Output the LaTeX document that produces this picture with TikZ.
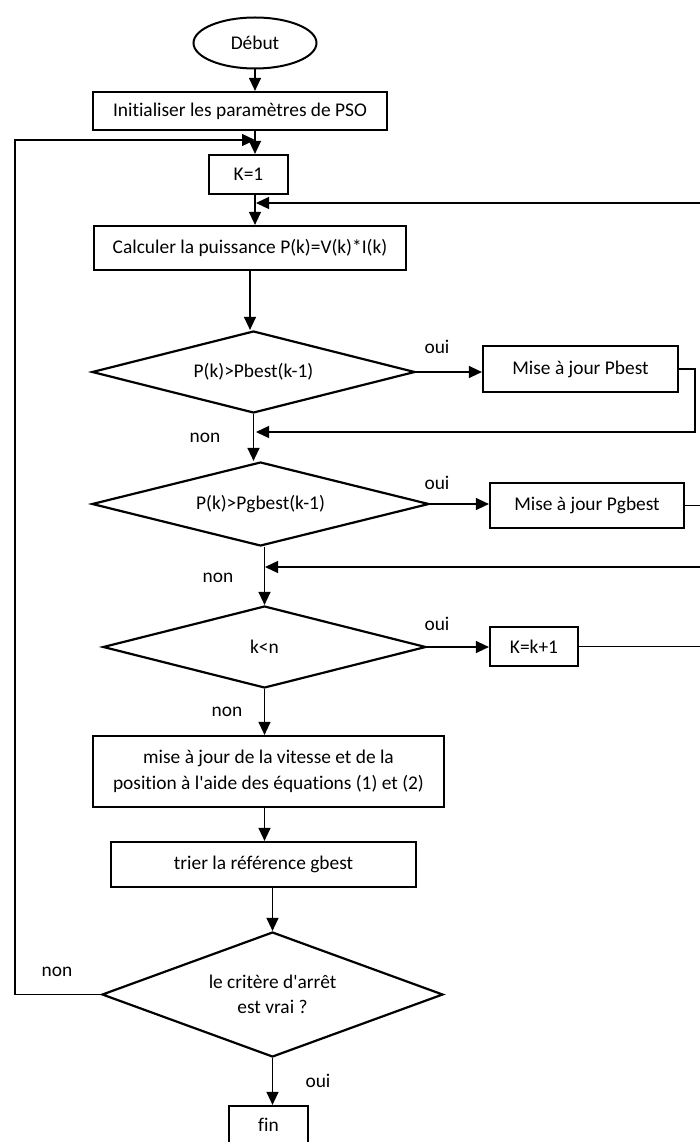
\documentclass[tikz,border=0pt]{standalone}
\usepackage{fontspec}
\setmainfont{Carlito}[Ligatures={TeX,NoCommon}]
\usetikzlibrary{shapes.geometric,arrows.meta}
\tikzset{
  box/.style={draw, line width=2.2pt, rectangle, inner sep=0pt, align=center},
  decision/.style={draw, line width=2.2pt, diamond, inner sep=0pt, align=center, aspect=4},
  term/.style={draw, line width=2.0pt, ellipse, inner sep=0pt},
  conn/.style={line width=1.3pt},
  arr/.style={conn, -{Triangle[length=13pt,width=12pt]}},
  lab/.style={inner sep=0pt}
}
\begin{document}
\begin{tikzpicture}[x=1pt,y=-1pt,font=\fontsize{19.4pt}{25.5pt}\selectfont]
\useasboundingbox (0,0) rectangle (700,1142);
\clip (0,0) rectangle (700,1142);
% nodes
\node[term, minimum width=123pt, minimum height=51pt] (debut) at (255,43) {Début};
\node[box, minimum width=294pt, minimum height=38pt] (init) at (240,111) {Initialiser les paramètres de PSO};
\node[box, minimum width=79pt, minimum height=39pt] (k1) at (248.5,174.5) {K=1};
\node[box, minimum width=312pt, minimum height=44pt] (calc) at (250,248) {Calculer la puissance P(k)=V(k)*I(k)};
\node[decision, minimum width=323pt, minimum height=82pt] (d1) at (253.5,372) {P(k)>Pbest(k-1)};
\node[box, minimum width=195pt, minimum height=46pt] (pbest) at (580.5,369) {Mise à jour Pbest};
\node[decision, minimum width=337pt, minimum height=84pt] (d2) at (260.5,504) {P(k)>Pgbest(k-1)};
\node[box, minimum width=194pt, minimum height=45pt] (pgbest) at (587,505.5) {Mise à jour Pgbest};
\node[decision, minimum width=323pt, minimum height=82pt] (d3) at (264.5,647) {k<n};
\node[box, minimum width=88pt, minimum height=39pt] (kk1) at (534,646.5) {K=k+1};
\node[box, minimum width=351pt, minimum height=71pt] (maj) at (268.5,771.5) {mise à jour de la vitesse et de la\\position à l\textquotesingle aide des équations (1) et (2)};
\node[box, minimum width=305pt, minimum height=45pt] (trier) at (263.5,864.5) {trier la référence gbest};
\node[decision, aspect=2.7, minimum width=341pt, minimum height=125pt] (d4) at (272.5,994.5) {le critère d\textquotesingle arrêt\\est vrai ?};
\node[box, minimum width=79pt, minimum height=38pt] (fin) at (268.5,1125) {fin};
% helper coordinates
\coordinate (m1) at (255,0);
\coordinate (j1) at (255,140);
\coordinate (j2) at (256,203);
\coordinate (e2) at (710,203);
\coordinate (r1) at (695,0);
\coordinate (j3) at (256,432);
\coordinate (eR) at (710,0);
\coordinate (j4) at (265,567);
\coordinate (e4) at (710,567);
\coordinate (lx) at (15,0);
% connectors
\draw[arr] (debut.south) -- (debut.south |- init.north);
\draw[arr] (init.south -| m1) -- (k1.north -| m1);
\draw[arr] (k1.south -| m1) -- (calc.north -| m1);
\draw[arr] (e2) -- (j2);
\draw[arr] (calc.south) -- (calc.south |- d1.north);
\draw[arr] (d1.east) -- (d1.east -| pbest.west);
\draw[arr] (pbest.east) -- (pbest.east -| r1) |- (j3);
\draw[arr] (d1.south) -- (d1.south |- d2.north);
\draw[arr] (d2.east) -- (d2.east -| pgbest.west);
\draw[conn] (pgbest.east) -- (pgbest.east -| eR);
\draw[arr] (d3.north |- d2.south) -- (d3.north);
\draw[arr] (e4) -- (j4);
\draw[arr] (d3.east) -- (d3.east -| kk1.west);
\draw[conn] (kk1.east) -- (kk1.east -| eR);
\draw[arr] (d3.south) -- (d3.south |- maj.north);
\draw[arr] (maj.south -| d3.south) -- (trier.north -| d3.south);
\draw[arr] (d4.north |- trier.south) -- (d4.north);
\draw[arr] (d4.south) -- (d4.south |- fin.north);
\draw[arr] (d4.west) -- (d4.west -| lx) |- (j1);
% labels
\node[lab] (o1) at (437,347) {oui};
\node[lab] (o2) at (437,483) {oui};
\node[lab] (o3) at (437,624) {oui};
\node[lab] (o4) at (318,1081) {oui};
\node[lab] (n1) at (205,438) {non};
\node[lab] (n2) at (218,578) {non};
\node[lab] (n3) at (227,712) {non};
\node[lab] (n4) at (57,972) {non};
\end{tikzpicture}
\end{document}
